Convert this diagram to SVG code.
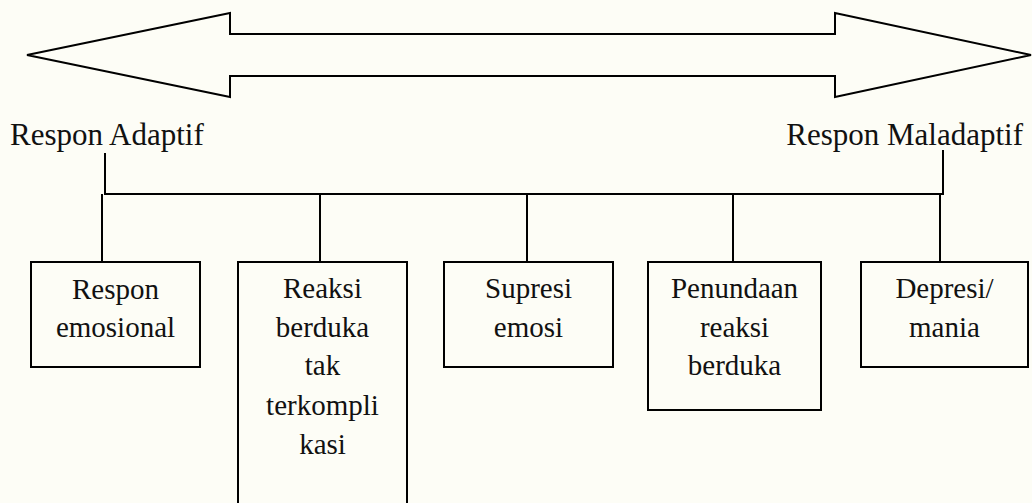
<svg xmlns="http://www.w3.org/2000/svg" width="1032" height="503" viewBox="0 0 1032 503">
  <style>
    .bg { fill: #fdfdf6; }
    .shape { fill: none; stroke: #000; stroke-width: 2; }
    .box { fill: #fdfdf6; stroke: #000; stroke-width: 2; }
    .line { fill: none; stroke: #000; stroke-width: 2; }
    .label { font-family: "Liberation Serif", "Times New Roman", serif; font-size: 31px; fill: #111; }
    .txt { font-family: "Liberation Serif", "Times New Roman", serif; font-size: 29px; fill: #111; text-anchor: middle; }
  </style>
  <rect class="bg" x="0" y="0" width="1032" height="503"/>

  <g id="double-arrow">
    <polygon class="shape" points="27,55 230,13 230,34 835,34 835,13 1031,55 835,97 835,76 230,76 230,97"/>
  </g>

  <g id="label-adaptif">
    <text class="label" x="10" y="145">Respon Adaptif</text>
  </g>
  <g id="label-maladaptif">
    <text class="label" x="1023" y="145" text-anchor="end">Respon Maladaptif</text>
  </g>

  <g id="connectors">
    <line class="line" x1="105" y1="153" x2="105" y2="194"/>
    <line class="line" x1="943" y1="150" x2="943" y2="194"/>
    <line class="line" x1="104" y1="194" x2="944" y2="194"/>
    <line class="line" x1="102" y1="194" x2="102" y2="262"/>
    <line class="line" x1="320" y1="194" x2="320" y2="262"/>
    <line class="line" x1="527" y1="194" x2="527" y2="262"/>
    <line class="line" x1="733" y1="194" x2="733" y2="262"/>
    <line class="line" x1="940" y1="194" x2="940" y2="262"/>
  </g>

  <g id="node-respon-emosional">
    <rect class="box" x="31" y="262" width="169" height="105"/>
    <text class="txt" x="115.5" y="299">Respon</text>
    <text class="txt" x="115.5" y="337">emosional</text>
  </g>

  <g id="node-reaksi-berduka">
    <rect class="box" x="238" y="262" width="169" height="250"/>
    <text class="txt" x="322.5" y="298">Reaksi</text>
    <text class="txt" x="322.5" y="337">berduka</text>
    <text class="txt" x="322.5" y="375">tak</text>
    <text class="txt" x="322.5" y="415">terkompli</text>
    <text class="txt" x="322.5" y="454">kasi</text>
  </g>

  <g id="node-supresi-emosi">
    <rect class="box" x="444" y="262" width="169" height="105"/>
    <text class="txt" x="528.5" y="298">Supresi</text>
    <text class="txt" x="528.5" y="337">emosi</text>
  </g>

  <g id="node-penundaan">
    <rect class="box" x="648" y="262" width="173" height="148"/>
    <text class="txt" x="734.5" y="298">Penundaan</text>
    <text class="txt" x="734.5" y="337">reaksi</text>
    <text class="txt" x="734.5" y="375">berduka</text>
  </g>

  <g id="node-depresi-mania">
    <rect class="box" x="861" y="262" width="167" height="105"/>
    <text class="txt" x="944.5" y="298">Depresi/</text>
    <text class="txt" x="944.5" y="337">mania</text>
  </g>
</svg>
